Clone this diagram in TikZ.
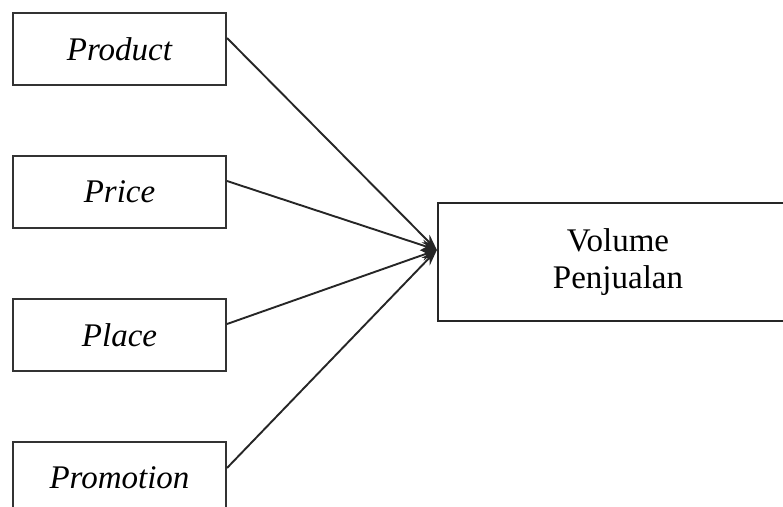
\documentclass[tikz,border=0pt]{standalone}
\usepackage{fontspec}
\setmainfont{Liberation Serif}
\usetikzlibrary{positioning, arrows.meta, calc}

\begin{document}
\begin{tikzpicture}[x=1pt, y=-1pt, node distance=69pt,
        factor/.style={draw=black!80, line width=2pt, minimum width=213pt, minimum height=72pt,
            inner sep=0pt, font=\fontsize{33}{38}\selectfont\itshape},
        result/.style={draw=black!85, line width=2.2pt, minimum width=360pt, minimum height=118pt,
            inner sep=0pt, align=center, font=\fontsize{33}{37}\selectfont},
        link/.style={draw=black!85, line width=1.9pt, -{Stealth[length=16pt, width=11pt]}}]
        \clip (0,0) rectangle (783,506);
        \useasboundingbox (0,0) rectangle (783,506);

        \node[factor] (prod) at (119.5,49) {Product};
        \node[factor, below=of prod] (price) {Price};
        \node[factor, below=of price] (place) {Place};
        \node[factor, below=of place] (promo) {Promotion};
        \node[result] (vol) at (618,262) {Volume\\Penjualan};

        \coordinate (tip) at ([yshift=12pt]vol.west);

        \draw[link] ([yshift=11pt]prod.east) -- (tip);
        \draw[link] ([yshift=11pt]price.east) -- (tip);
        \draw[link] ([yshift=11pt]place.east) -- (tip);
        \draw[link] ([yshift=10pt]promo.east) -- (tip);
    \end{tikzpicture}
\end{document}
